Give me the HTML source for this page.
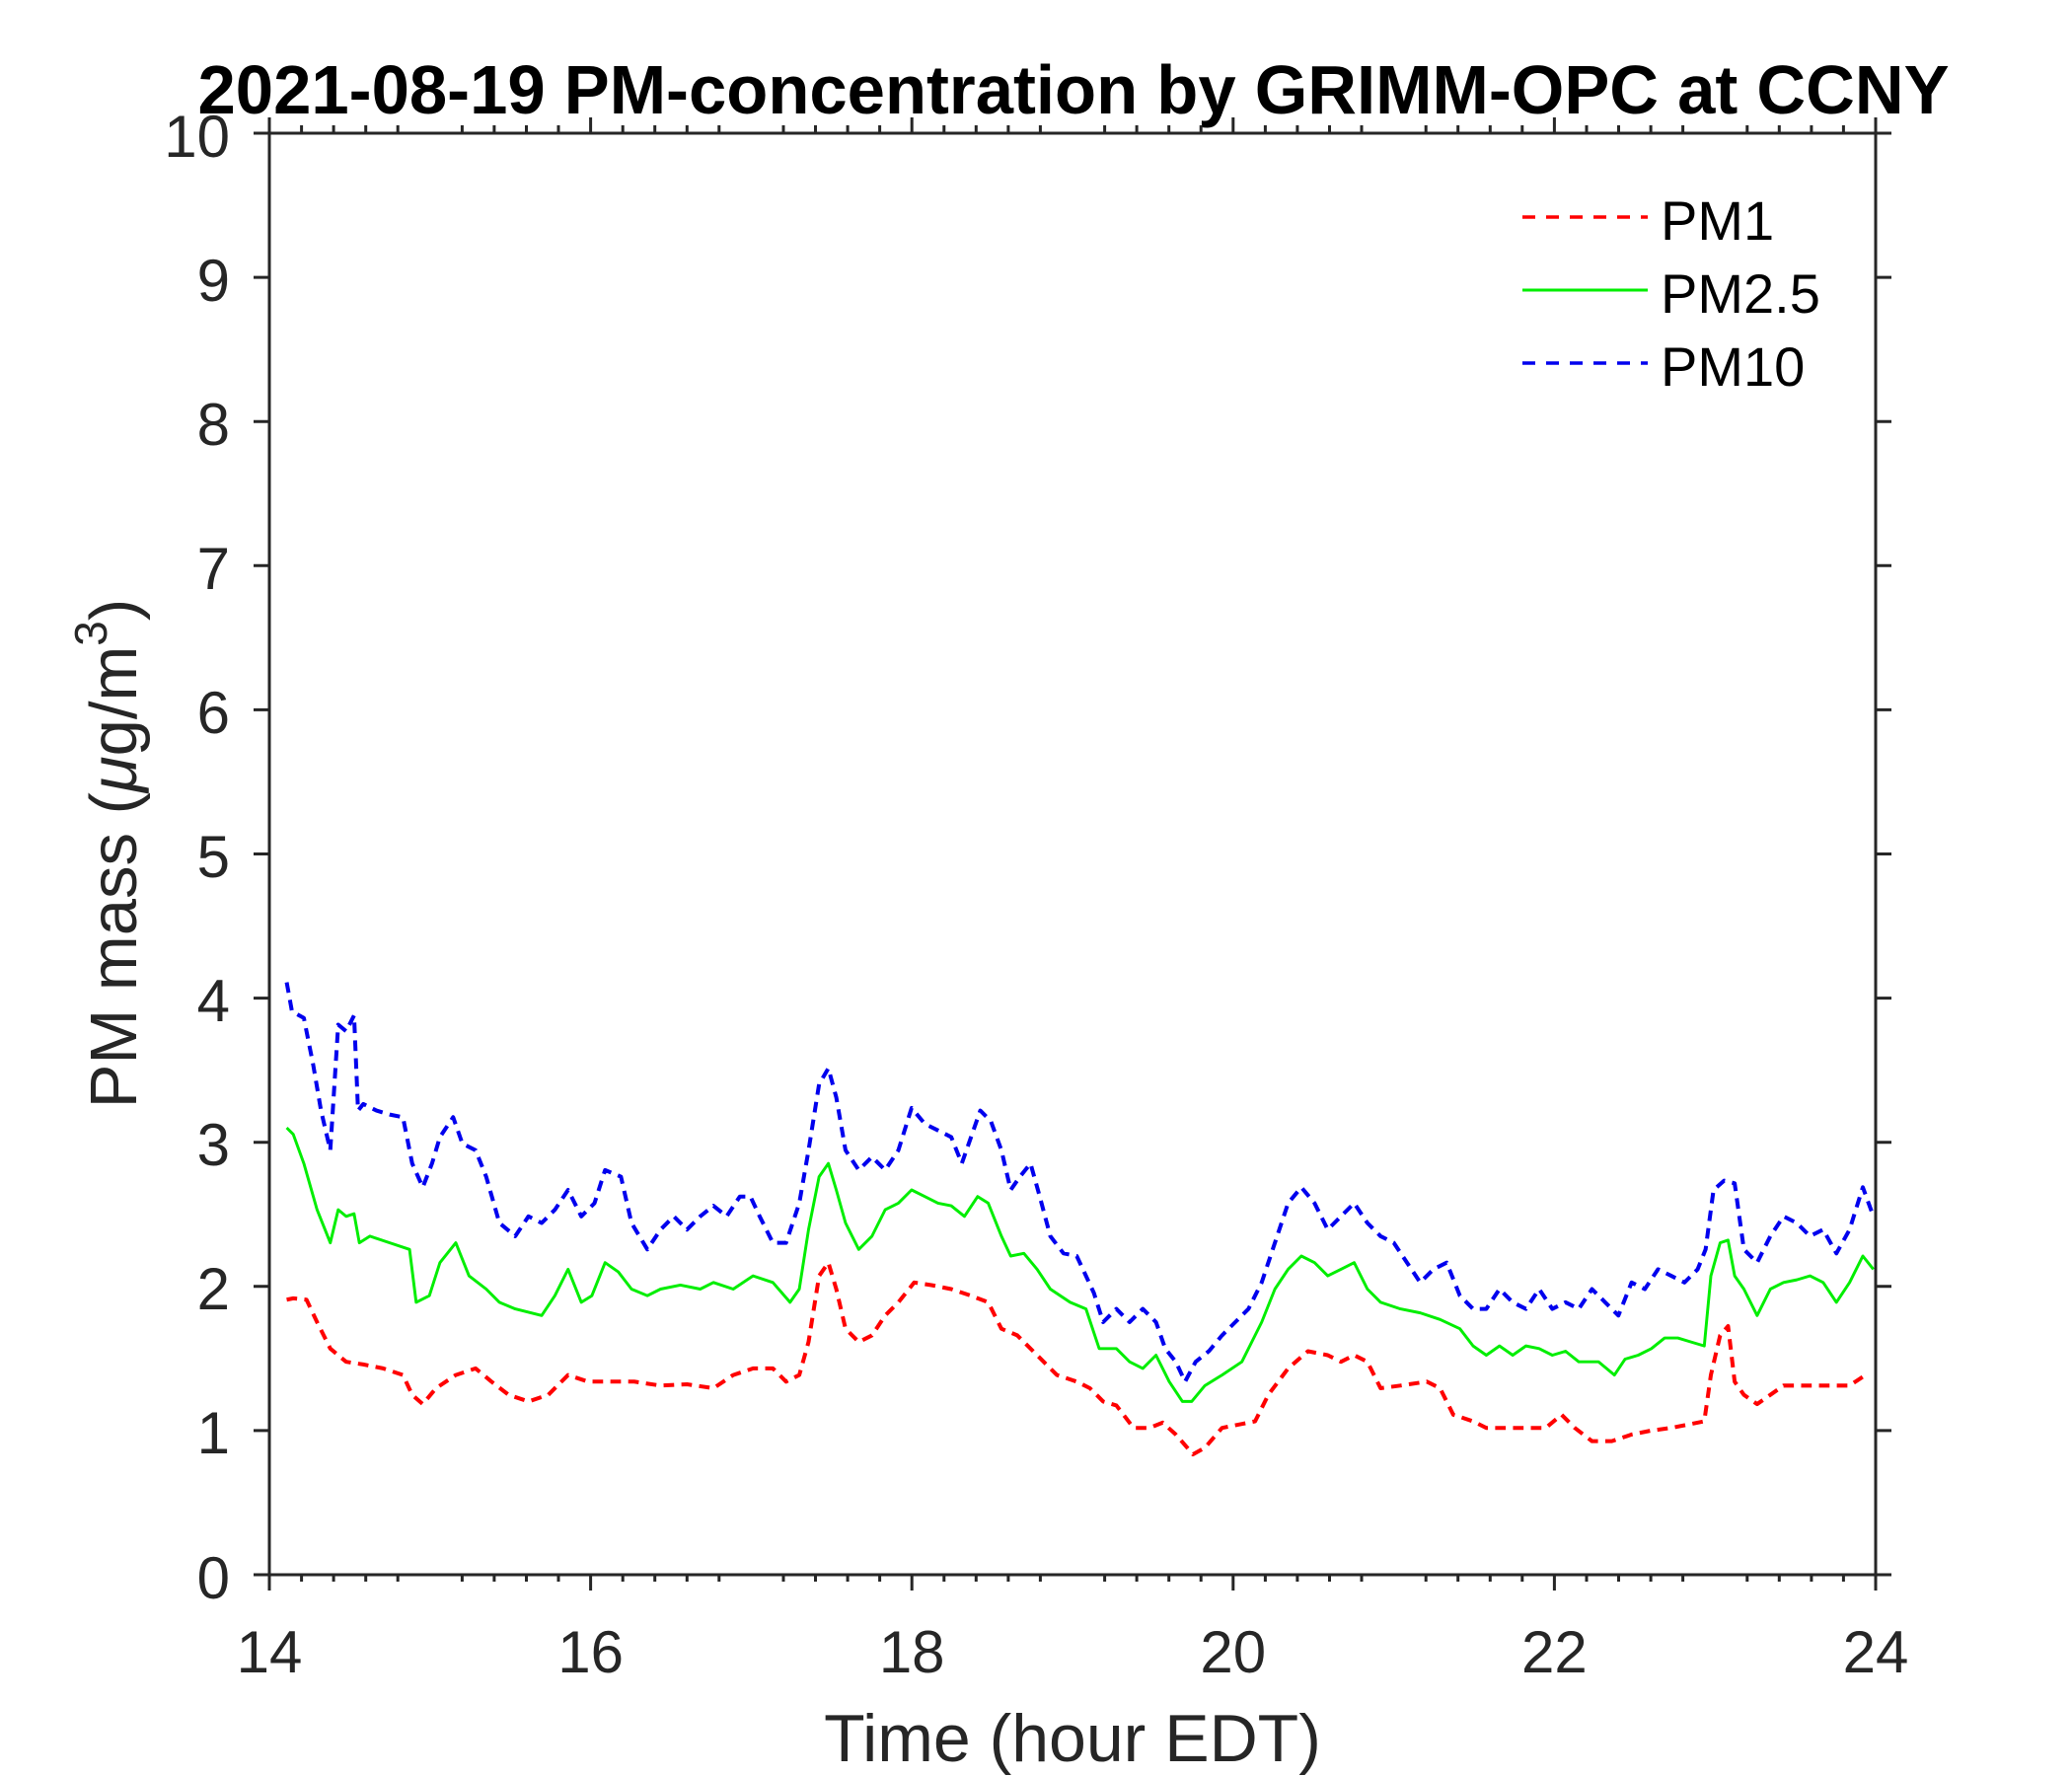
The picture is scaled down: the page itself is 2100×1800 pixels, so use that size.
<!DOCTYPE html>
<html><head><meta charset="utf-8"><style>
html,body{margin:0;padding:0;background:#fff;}
svg{display:block;}
text{font-family:"Liberation Sans",Arial,sans-serif;}
</style></head><body>
<svg width="2100" height="1800" viewBox="0 0 2100 1800" xmlns="http://www.w3.org/2000/svg">
<rect width="2100" height="1800" fill="#fff"/>
<text x="1088" y="115" font-size="70" font-weight="bold" text-anchor="middle" fill="#000" textLength="1775" lengthAdjust="spacingAndGlyphs">2021-08-19 PM-concentration by GRIMM-OPC at CCNY</text>
<g fill="none" stroke-linejoin="round" transform="scale(1.339,1.340)">
<polyline stroke="#ff0000" stroke-width="3" stroke-dasharray="8,5.5" points="217,983 222,982 232,983 240,1000 250,1020 262,1030 275,1032 290,1035 305,1040 312,1055 320,1062 330,1050 345,1040 360,1035 372,1045 385,1055 400,1060 415,1055 430,1040 445,1045 460,1045 480,1045 500,1048 520,1047 540,1050 555,1040 570,1035 585,1035 595,1045 605,1040 612,1015 620,965 627,955 633,975 640,1005 650,1015 660,1010 670,995 680,985 692,970 705,972 720,975 735,980 748,985 758,1005 770,1010 785,1025 800,1040 815,1045 825,1050 835,1060 845,1063 858,1080 870,1080 880,1076 890,1085 903,1100 912,1095 925,1080 940,1077 950,1075 960,1055 975,1035 990,1022 1005,1025 1015,1030 1025,1025 1035,1030 1045,1050 1060,1048 1080,1045 1090,1050 1100,1070 1115,1075 1125,1080 1140,1080 1155,1080 1170,1080 1182,1070 1192,1080 1205,1090 1220,1090 1235,1085 1250,1082 1265,1080 1280,1077 1290,1075 1295,1040 1302,1010 1308,1003 1313,1045 1320,1055 1330,1062 1340,1055 1350,1048 1365,1048 1385,1048 1400,1048 1412,1040"/>
<polyline stroke="#00ee00" stroke-width="2.2" points="217,853 222,858 230,880 240,915 250,940 256,915 262,920 268,918 272,940 280,935 295,940 310,945 315,985 325,980 333,955 345,940 355,965 368,975 378,985 390,990 410,995 420,980 430,960 440,985 448,980 458,955 468,962 478,975 490,980 500,975 515,972 530,975 540,970 555,975 570,965 585,970 598,985 605,975 612,930 620,890 627,880 633,900 640,925 650,945 660,935 670,915 680,910 690,900 700,905 710,910 720,912 730,920 740,905 748,910 758,935 765,950 775,948 785,960 795,975 810,985 822,990 832,1020 845,1020 855,1030 865,1035 875,1025 885,1045 895,1060 902,1060 912,1048 925,1040 940,1030 955,1000 965,975 975,960 985,950 995,955 1005,965 1015,960 1025,955 1035,975 1045,985 1060,990 1075,993 1090,998 1105,1005 1115,1018 1125,1025 1135,1018 1145,1025 1155,1018 1165,1020 1175,1025 1185,1022 1195,1030 1210,1030 1222,1040 1230,1028 1240,1025 1250,1020 1260,1012 1270,1012 1280,1015 1290,1018 1295,965 1302,940 1308,938 1313,965 1320,975 1330,995 1340,975 1350,970 1360,968 1370,965 1380,970 1390,985 1400,970 1410,950 1418,960"/>
<polyline stroke="#0000ee" stroke-width="3" stroke-dasharray="8,5.5" points="217,743 221,765 230,770 237,805 243,840 250,870 256,775 262,780 268,768 271,840 275,835 285,840 295,843 305,845 312,880 320,898 327,880 333,860 343,845 350,865 360,870 368,890 378,925 390,935 400,920 410,925 420,915 430,900 440,920 450,910 458,885 470,890 478,925 490,945 500,930 510,920 520,930 530,920 540,912 550,920 560,905 568,905 575,920 585,940 595,940 605,910 612,870 620,820 627,808 633,830 640,870 650,885 660,875 670,885 680,870 690,838 700,850 710,855 720,860 728,880 735,860 742,840 750,848 758,870 765,900 772,890 780,880 787,905 795,935 805,948 815,950 822,965 828,978 835,1000 845,990 855,1000 865,990 875,1000 882,1020 890,1030 897,1045 905,1030 915,1022 925,1010 935,1000 945,990 955,970 965,940 975,910 985,898 995,910 1005,930 1015,920 1025,910 1035,925 1045,935 1055,940 1065,955 1075,970 1085,960 1095,955 1105,980 1115,990 1125,990 1135,975 1145,985 1155,990 1165,975 1175,990 1185,985 1195,990 1205,975 1215,985 1225,995 1235,970 1245,975 1255,960 1265,965 1275,970 1285,960 1291,945 1297,900 1305,893 1313,895 1320,945 1330,955 1340,935 1350,920 1360,925 1370,935 1380,930 1390,948 1400,930 1410,898 1418,920"/>
</g>
<g stroke="#262626" stroke-width="3" fill="none">
<rect x="273" y="135" width="1628" height="1461"/>
<path d="M273,1596v16 M598.6,1596v16 M924.2,1596v16 M1249.8,1596v16 M1575.4,1596v16 M1901,1596v16 M273,135v-16 M598.6,135v-16 M924.2,135v-16 M1249.8,135v-16 M1575.4,135v-16 M1901,135v-16"/>
<path d="M257,135h16 M257,281.1h16 M257,427.2h16 M257,573.3h16 M257,719.4h16 M257,865.5h16 M257,1011.6h16 M257,1157.7h16 M257,1303.8h16 M257,1449.9h16 M257,1596h16 M1901,135h16 M1901,281.1h16 M1901,427.2h16 M1901,573.3h16 M1901,719.4h16 M1901,865.5h16 M1901,1011.6h16 M1901,1157.7h16 M1901,1303.8h16 M1901,1449.9h16 M1901,1596h16"/>
<path id="minor" d="M305.6,1596v7 M338.1,1596v7 M370.7,1596v7 M403.2,1596v7 M468.4,1596v7 M500.9,1596v7 M533.5,1596v7 M566,1596v7 M631.2,1596v7 M663.7,1596v7 M696.3,1596v7 M728.8,1596v7 M794,1596v7 M826.5,1596v7 M859.1,1596v7 M891.6,1596v7 M956.8,1596v7 M989.3,1596v7 M1021.9,1596v7 M1054.4,1596v7 M1119.6,1596v7 M1152.1,1596v7 M1184.7,1596v7 M1217.2,1596v7 M1282.4,1596v7 M1314.9,1596v7 M1347.5,1596v7 M1380,1596v7 M1445.2,1596v7 M1477.7,1596v7 M1510.3,1596v7 M1542.8,1596v7 M1608,1596v7 M1640.5,1596v7 M1673.1,1596v7 M1705.6,1596v7 M1770.8,1596v7 M1803.3,1596v7 M1835.9,1596v7 M1868.4,1596v7"/>
<path d="M305.6,135v-8 M338.1,135v-8 M370.7,135v-8 M403.2,135v-8 M468.4,135v-8 M500.9,135v-8 M533.5,135v-8 M566,135v-8 M631.2,135v-8 M663.7,135v-8 M696.3,135v-8 M728.8,135v-8 M794,135v-8 M826.5,135v-8 M859.1,135v-8 M891.6,135v-8 M956.8,135v-8 M989.3,135v-8 M1021.9,135v-8 M1054.4,135v-8 M1119.6,135v-8 M1152.1,135v-8 M1184.7,135v-8 M1217.2,135v-8 M1282.4,135v-8 M1314.9,135v-8 M1347.5,135v-8 M1380,135v-8 M1445.2,135v-8 M1477.7,135v-8 M1510.3,135v-8 M1542.8,135v-8 M1608,135v-8 M1640.5,135v-8 M1673.1,135v-8 M1705.6,135v-8 M1770.8,135v-8 M1803.3,135v-8 M1835.9,135v-8 M1868.4,135v-8"/>
</g>
<g font-size="60" fill="#262626" text-anchor="end">
<text x="233" y="159">10</text><text x="233" y="305">9</text><text x="233" y="451">8</text><text x="233" y="597">7</text><text x="233" y="743">6</text><text x="233" y="889">5</text><text x="233" y="1035">4</text><text x="233" y="1181">3</text><text x="233" y="1327">2</text><text x="233" y="1473">1</text><text x="233" y="1620">0</text>
</g>
<g font-size="60" fill="#262626" text-anchor="middle">
<text x="273" y="1695">14</text><text x="598.6" y="1695">16</text><text x="924.2" y="1695">18</text><text x="1249.8" y="1695">20</text><text x="1575.4" y="1695">22</text><text x="1901" y="1695">24</text>
</g>
<text x="1087" y="1785" font-size="68" fill="#262626" text-anchor="middle">Time (hour EDT)</text>
<text transform="translate(138,865) rotate(-90)" font-size="67" fill="#262626" text-anchor="middle">PM mass (<tspan font-style="italic">μ</tspan>g/m<tspan font-size="46" dy="-30">3</tspan><tspan dy="30">)</tspan></text>
<g stroke-width="3.5">
<line x1="1543" y1="220" x2="1670" y2="220" stroke="#ff0000" stroke-dasharray="13,11"/>
<line x1="1543" y1="294" x2="1670" y2="294" stroke="#00ee00" stroke-width="3"/>
<line x1="1543" y1="368" x2="1670" y2="368" stroke="#0000ee" stroke-dasharray="13,11"/>
</g>
<g font-size="56" fill="#000">
<text x="1683" y="243">PM1</text><text x="1683" y="317">PM2.5</text><text x="1683" y="391">PM10</text>
</g>
</svg>
</body></html>
